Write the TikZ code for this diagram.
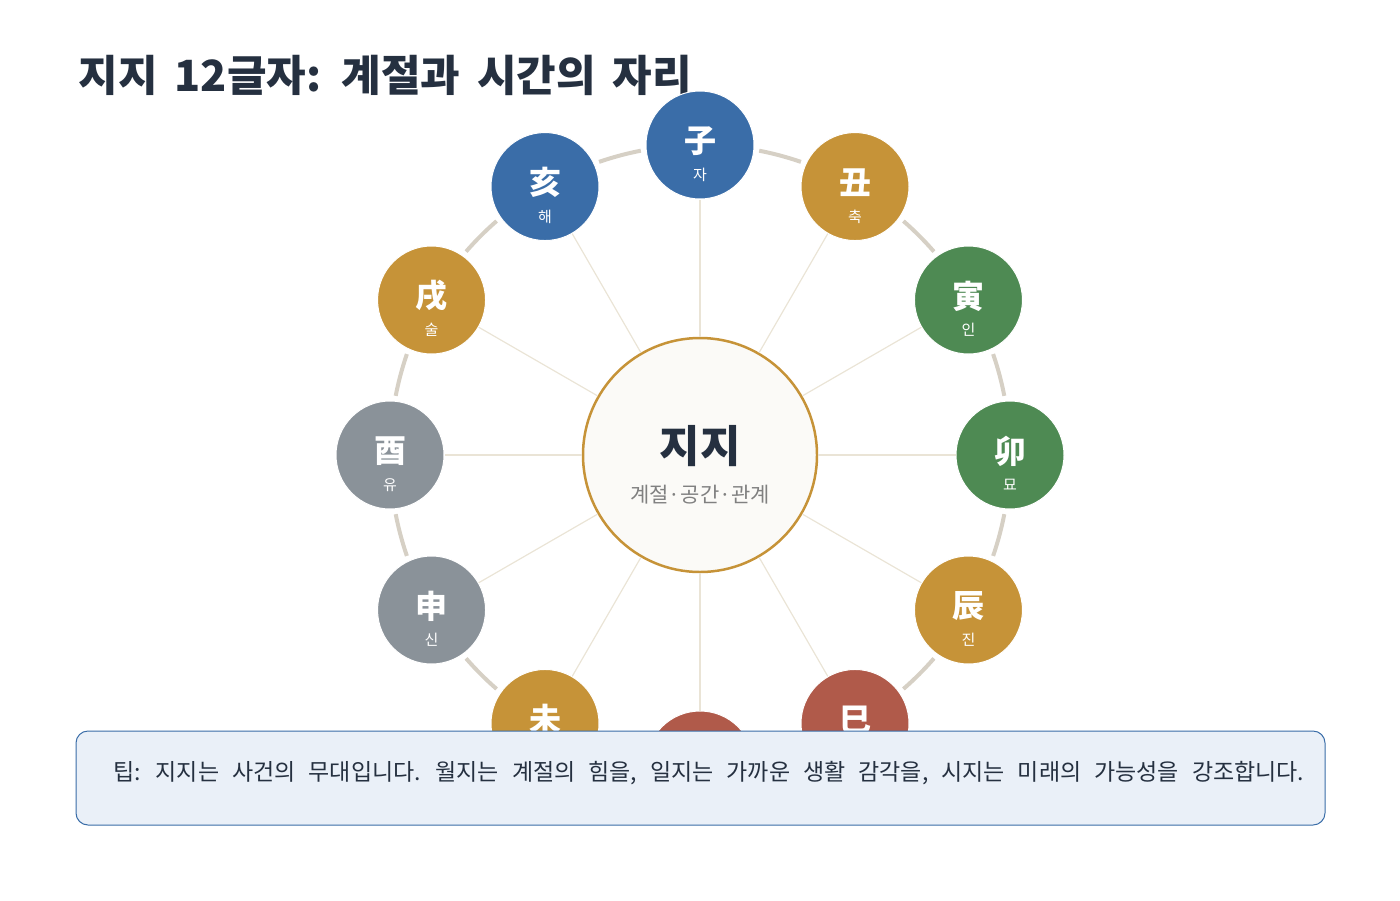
\documentclass[tikz,border=0pt]{standalone}
\usepackage{fontspec}
\setmainfont{Noto Sans CJK KR}
\definecolor{ink}{HTML}{253040}
\definecolor{jblue}{HTML}{3A6DA8}
\definecolor{jgold}{HTML}{C69338}
\definecolor{jgreen}{HTML}{4E8A53}
\definecolor{jgray}{HTML}{8A9299}
\definecolor{jred}{HTML}{B05A4A}
\definecolor{ringc}{HTML}{D6D0C5}
\definecolor{spokec}{HTML}{EAE4D6}
\definecolor{tipfill}{HTML}{EAF0F8}
\begin{document}
\begin{tikzpicture}[x=1pt,y=-1pt,
branch/.style={circle, draw=white, line width=1pt, minimum size=108pt, inner sep=0pt},
hanja/.style={text=white, font=\fontsize{32}{34}\selectfont\bfseries, inner sep=0pt},
hangul/.style={text=white, font=\fontsize{15}{16}\selectfont, inner sep=0pt},
hub/.style={circle, draw=jgold, line width=2.5pt, fill=white!80!spokec, minimum size=234pt},
ring/.style={ringc, line width=4pt},
spoke/.style={spokec, line width=1.2pt},
tipbox/.style={draw=jblue, line width=1pt, fill=tipfill, rounded corners=12pt, minimum width=1249pt, minimum height=94pt},
]
\useasboundingbox (0,0) rectangle (1400,900);
\node[anchor=west, text=ink, font=\fontsize{43}{48}\selectfont\bfseries] (title) at (75,75) {\spaceskip=17pt 지지 12글자: 계절과 시간의 자리};
% ring arcs
\foreach \i in {0,...,11}
  \draw[ring] ({700+310*cos(90-30*\i-11)},{455-310*sin(90-30*\i-11)})
    arc[start angle={-(90-30*\i-11)}, end angle={-(90-30*\i-19)}, radius=310];
\node[hub] (c) at (700,455) {};
\node[text=ink, font=\fontsize{44}{50}\selectfont\bfseries] (ctitle) at (700,446) {지지};
\node[text=gray, font=\fontsize{21}{24}\selectfont] (csub) at (700,495) {계절·공간·관계};
% twelve branches
\foreach \i/\h/\k/\col in {0/子/자/jblue, 1/丑/축/jgold, 2/寅/인/jgreen, 3/卯/묘/jgreen,
    4/辰/진/jgold, 5/巳/사/jred, 6/午/오/jred, 7/未/미/jgold,
    8/申/신/jgray, 9/酉/유/jgray, 10/戌/술/jgold, 11/亥/해/jblue}{
  \node[branch, fill=\col] (n\i) at ({700+310*cos(90-30*\i)},{455-310*sin(90-30*\i)}) {};
  \node[hanja] (h\i) at ([yshift=4pt]n\i.center) {\h};
  \node[hangul] (k\i) at ([yshift=-30pt]n\i.center) {\k};
}
\foreach \i in {0,...,11}
  \draw[spoke] (c) -- (n\i);
% tip
\node[tipbox] (tip) at (700.5,778) {};
\node[anchor=west, text=ink, font=\fontsize{23}{26}\selectfont] (tiptext) at (110,773) {\spaceskip=13pt 팁: 지지는 사건의 무대입니다. 월지는 계절의 힘을, 일지는 가까운 생활 감각을, 시지는 미래의 가능성을 강조합니다.};
\end{tikzpicture}
\end{document}
